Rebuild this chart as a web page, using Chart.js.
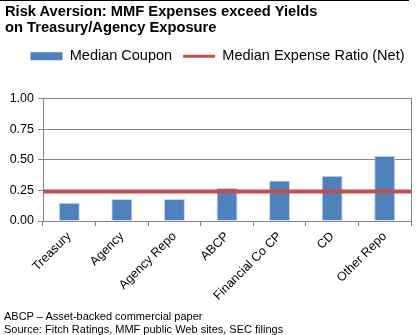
<!DOCTYPE html>
<html>
<head>
<meta charset="utf-8">
<script src="https://cdn.jsdelivr.net/npm/chart.js@4"></script>
<style>
  html, body { margin: 0; padding: 0; background: #fff; }
  #wrap { position: relative; width: 420px; height: 335px; overflow: hidden; font-family: "Liberation Sans", Arial, sans-serif; }
  #topline { position: absolute; left: 0; top: 0; width: 409px; height: 1px; background: #000; }
  #title { position: absolute; left: 5px; top: 4px; font-weight: bold; font-size: 14.7px; line-height: 15.5px; color: #000; }
  #notes { position: absolute; left: 4px; top: 310px; font-size: 11px; line-height: 12.5px; color: #000; }
  #chart { position: absolute; left: 0; top: 0; }
</style>
</head>
<body>
<div id="wrap">
  <canvas id="chart" width="420" height="335"></canvas>
  <div id="topline"></div>
  <div id="title">Risk Aversion: MMF Expenses exceed Yields<br>on Treasury/Agency Exposure</div>
  <div id="notes">ABCP – Asset-backed commercial paper<br>Source: Fitch Ratings, MMF public Web sites, SEC filings</div>
</div>
<script>
// chart values
const categories = ['Treasury', 'Agency', 'Agency Repo', 'ABCP', 'Financial Co CP', 'CD', 'Other Repo'];
const medianCoupon = [0.15, 0.18, 0.18, 0.27, 0.33, 0.37, 0.53];
const expenseRatio = 0.24;
const yTicks = [0, 0.25, 0.5, 0.75, 1.0];

const BLUE = '#4F81BD';
const RED = '#C0504D';
const GRID = '#878787';
const FONT = "'Liberation Sans', Arial, sans-serif";

Chart.defaults.font.family = FONT;
Chart.defaults.color = '#000';

// move the legend without touching the plot area
const legendShift = {
    id: 'legendShift',
    beforeDraw: (chart) => {
        const lg = chart.legend;
        if (!lg || lg._shifted) return;
        lg.left += 12; lg.right += 12;
        lg.top -= 25; lg.bottom -= 25;
        lg._shifted = true;
    }
};

const ctx = document.getElementById('chart').getContext('2d');
window.costChart = new Chart(ctx, {
    type: 'bar',
    data: {
        labels: categories,
        datasets: [
            {
                type: 'line',
                label: 'Median Expense Ratio (Net)',
                data: [{ x: 0, y: expenseRatio }, { x: 1, y: expenseRatio }],
                xAxisID: 'x2',
                borderColor: RED,
                borderWidth: 4,
                pointRadius: 0,
                order: 0
            },
            {
                label: 'Median Coupon',
                data: medianCoupon,
                backgroundColor: BLUE,
                borderColor: '#c5d4ea',
                borderWidth: 1,
                grouped: false,
                categoryPercentage: 1,
                barPercentage: 0.4,
                order: 1
            }
        ]
    },
    options: {
        responsive: false,
        animation: false,
        layout: {
            padding: { top: 63, right: 9, bottom: 34, left: 0 }
        },
        scales: {
            x: {
                grid: {
                    offset: true,
                    drawOnChartArea: false,
                    drawTicks: true,
                    tickLength: 5,
                    color: GRID
                },
                border: { color: GRID },
                ticks: {
                    font: { size: 12.5 },
                    maxRotation: 45,
                    minRotation: 45,
                    autoSkip: false,
                    padding: 3
                },
                afterFit: (scale) => { scale.height = 80; }
            },
            x2: {
                type: 'linear',
                display: false,
                offset: false,
                min: 0,
                max: 1
            },
            y: {
                min: 0,
                max: 1,
                afterBuildTicks: (scale) => {
                    scale.ticks = yTicks.map(v => ({ value: v }));
                },
                grid: {
                    color: GRID,
                    tickLength: 5
                },
                border: { color: GRID },
                ticks: {
                    font: { size: 12.5 },
                    padding: 4,
                    callback: (v) => Number(v).toFixed(2)
                },
                afterFit: (scale) => { scale.width = 43; }
            },
            yRight: {
                position: 'right',
                min: 0,
                max: 1,
                grid: { drawOnChartArea: false, drawTicks: false },
                border: { display: true, color: GRID },
                ticks: { display: false },
                afterFit: (scale) => { scale.width = 0; }
            }
        },
        plugins: {
            tooltip: { enabled: false },
            legend: {
                position: 'top',
                labels: {
                    usePointStyle: true,
                    pointStyleWidth: 32,
                    boxHeight: 8,
                    padding: 11,
                    font: { size: 14.5 },
                    color: '#000',
                    generateLabels: () => [
                        { text: 'Median Coupon', fillStyle: BLUE, strokeStyle: BLUE, lineWidth: 0, pointStyle: 'rect', hidden: false, datasetIndex: 1 },
                        { text: 'Median Expense Ratio (Net)', fillStyle: RED, strokeStyle: RED, lineWidth: 3, pointStyle: 'line', hidden: false, datasetIndex: 0 }
                    ]
                }
            }
        }
    },
    plugins: [legendShift]
});
</script>
</body>
</html>
